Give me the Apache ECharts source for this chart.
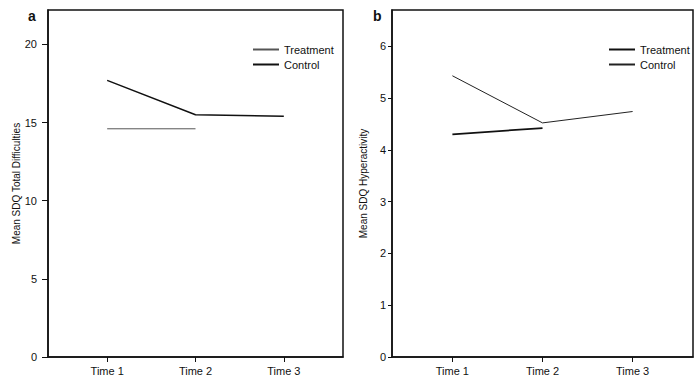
<!DOCTYPE html>
<html>
<head>
<meta charset="utf-8">
<script src="https://cdn.jsdelivr.net/npm/echarts@6/dist/echarts.min.js"></script>
<style>
  html, body { margin: 0; padding: 0; background: #fff; }
  #wrap { width: 700px; height: 388px; position: relative; }
  .panel { position: absolute; top: 0; width: 350px; height: 388px; }
</style>
</head>
<body>
<div id="wrap">
  <div id="chart-a" class="panel" style="left:0"></div>
  <div id="chart-b" class="panel" style="left:350px"></div>
</div>
<script>
var timeLabels = ['Time 1', 'Time 2', 'Time 3'];
var timePos = [1, 2, 3];

// panel a: total difficulties
var aTreatment = [14.6, 14.6];
var aControl = [17.7, 15.5, 15.4];
var aTicks = [0, 5, 10, 15, 20];

// panel b: hyperactivity
var bTreatment = [4.3, 4.42];
var bControl = [5.43, 4.52, 4.74];
var bTicks = [0, 1, 2, 3, 4, 5, 6];

var font = "'Liberation Sans Narrow', 'Arial Narrow', 'Liberation Sans', sans-serif";
var ink = '#111';

function pairs(vals) {
  return vals.map(function(v, i) { return [timePos[i], v]; });
}

function makeOption(cfg) {
  return {
    animation: false,
    title: {
      text: cfg.letter, left: cfg.letterLeft, top: 4,
      textStyle: { fontFamily: 'Liberation Sans', fontSize: 14, fontWeight: 'bold', color: ink }
    },
    legend: {
      orient: 'vertical', left: cfg.legendLeft, top: 39, itemWidth: 26, itemHeight: 8, itemGap: 4,
      itemStyle: { opacity: 0 },
      textStyle: { fontFamily: font, fontSize: 11, color: ink },
      data: ['Treatment', 'Control']
    },
    grid: { left: cfg.gridLeft, right: 7, top: 10, bottom: 31, show: true, borderColor: ink, borderWidth: 1.5 },
    xAxis: {
      type: 'value', min: 0.33, max: 3.67,
      splitLine: { show: false },
      axisLine: { lineStyle: { color: ink, width: 1.5 } },
      axisTick: { customValues: timePos, length: 5, lineStyle: { color: ink } },
      axisLabel: {
        customValues: timePos, margin: 8, color: ink, fontFamily: font, fontSize: 11,
        formatter: function(v) { return timeLabels[Math.round(v) - 1] || ''; }
      }
    },
    yAxis: {
      type: 'value', min: 0, max: cfg.yMax,
      name: cfg.yName, nameLocation: 'middle', nameGap: cfg.nameGap, nameMoveOverlap: false,
      nameTextStyle: { fontFamily: font, fontSize: 10, color: ink },
      splitLine: { show: false },
      axisLine: { show: true, lineStyle: { color: ink, width: 1.5 } },
      axisTick: { show: true, customValues: cfg.ticks, length: cfg.tickLen, lineStyle: { color: ink } },
      axisLabel: { customValues: cfg.ticks, margin: cfg.labelGap, color: ink, fontFamily: font, fontSize: 11 }
    },
    series: [
      {
        name: 'Treatment', type: 'line', symbol: 'none', data: pairs(cfg.treatment),
        lineStyle: { color: cfg.treatColor, width: cfg.treatWidth }, itemStyle: { color: cfg.treatColor }
      },
      {
        name: 'Control', type: 'line', symbol: 'none', data: pairs(cfg.control),
        lineStyle: { color: cfg.ctrlColor, width: cfg.ctrlWidth }, itemStyle: { color: cfg.ctrlColor }
      }
    ]
  };
}

var chartA = echarts.init(document.getElementById('chart-a'), null, { renderer: 'svg' });
chartA.setOption(makeOption({
  letter: 'a', letterLeft: 23, legendLeft: 247, gridLeft: 48,
  yMax: 22.2, ticks: aTicks, yName: 'Mean SDQ Total Difficulties', nameGap: 27,
  tickLen: 6, labelGap: 11,
  treatment: aTreatment, control: aControl,
  treatColor: '#555', treatWidth: 1, ctrlColor: '#111', ctrlWidth: 1.5
}));

var chartB = echarts.init(document.getElementById('chart-b'), null, { renderer: 'svg' });
chartB.setOption(makeOption({
  letter: 'b', letterLeft: 18, legendLeft: 253, gridLeft: 40,
  yMax: 6.7, ticks: bTicks, yName: 'Mean SDQ Hyperactivity', nameGap: 24,
  tickLen: 4, labelGap: 6,
  treatment: bTreatment, control: bControl,
  treatColor: '#111', treatWidth: 1.8, ctrlColor: '#222', ctrlWidth: 1
}));
</script>
</body>
</html>
